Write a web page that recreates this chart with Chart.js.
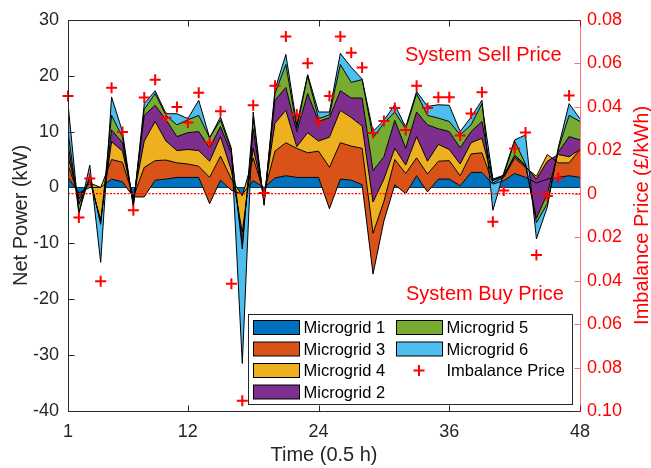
<!DOCTYPE html>
<html>
<head>
<meta charset="utf-8">
<script src="https://cdn.jsdelivr.net/npm/chart.js@4.4.1/dist/chart.umd.min.js"></script>
<style>
  html, body { margin: 0; padding: 0; background: #ffffff; }
  #wrap { width: 651px; height: 468px; position: relative; }
</style>
</head>
<body>
<div id="wrap"><canvas id="chart" width="651" height="468"></canvas></div>
<script>
// Half-hour settlement periods
const periods = [1,2,3,4,5,6,7,8,9,10,11,12,13,14,15,16,17,18,19,20,21,22,23,24,
                 25,26,27,28,29,30,31,32,33,34,35,36,37,38,39,40,41,42,43,44,45,46,47,48];

// Net power per microgrid (kW), in stacking order
const microgrid1 = [1.8,-1.0,0.0,0.0,1.5,1.0,-1.7,-1.7,1.3,1.5, 1.8,1.8,1.8,-2.9,1.3,-0.5,-1.2,1.2,0.0,1.7,
                    2.1,1.8,1.8,1.8,-3.8,1.5,1.3,0.5,-15.5,-6.0, 0.5,-1.1,2.1,-0.8,1.5,1.5,0.3,2.7,2.7,0.6,
                    1.2,2.5,1.8,0.8,1.5,1.8,2.1,1.8];
const microgrid3 = [2.2,-0.5,0.8,0.0,3.5,3.5,0.0,5.3,3.5,3.4, 2.6,2.4,2.0,4.7,4.3,2.0,-0.3,4.1,-1.0,4.8,
                    5.9,5.2,4.4,4.7,7.4,6.5,6.1,6.5,7.3,3.5, 4.5,3.6,3.2,3.2,3.2,3.3,1.8,3.3,3.5,0.2,
                    0.6,2.7,1.8,1.2,4.4,2.6,2.3,5.0];
const microgrid4 = [1.5,-0.5,0.4,-5.8,3.2,2.0,-0.3,4.7,7.0,3.4, 2.2,2.6,2.8,2.9,3.5,1.5,-6.5,1.7,-0.5,5.0,
                    5.8,0.3,3.6,1.8,5.4,5.8,5.1,4.0,5.6,4.0, 2.0,1.5,3.8,2.3,3.0,2.0,2.1,2.0,2.6,0.4,
                    0.2,0.3,0.2,-0.5,-1.2,1.5,1.1,0.0];
const microgrid2 = [2.0,-1.0,0.4,-0.4,2.1,1.5,-1.0,4.6,2.9,3.8, 2.5,3.0,3.4,2.4,1.8,3.0,-2.0,3.5,-1.0,4.1,
                    4.1,2.7,7.0,3.5,3.5,3.5,3.5,5.0,5.6,4.0, 5.0,3.0,4.4,6.5,2.8,3.2,2.9,2.0,3.0,0.1,
                    0.1,0.3,0.2,-7.0,-5.8,0.4,3.6,1.7];
const microgrid5 = [2.5,-1.5,0.6,-0.4,2.6,1.0,-0.2,1.1,2.1,0.8, 2.1,2.3,2.9,1.8,1.2,0.5,-1.0,2.0,-0.5,1.2,
                    4.1,0.6,3.2,0.5,0.5,4.7,2.8,3.3,5.9,6.0, 1.5,3.5,3.3,1.7,1.9,1.8,2.3,1.2,3.2,0.2,
                    0.1,2.5,0.2,-0.8,-1.8,0.5,3.8,3.3];
const microgrid6 = [5.0,-0.3,1.8,-6.8,3.3,1.0,-0.3,1.0,0.5,0.3, 2.0,0.2,2.7,0.0,0.5,0.5,-20.5,1.0,-0.2,0.7,
                    1.8,0.6,0.2,1.2,0.5,2.0,2.7,0.1,1.1,0.5, 1.3,0.3,0.4,1.6,2.4,2.9,0.6,1.4,0.6,-5.6,
                    0.4,0.2,5.2,-2.9,-0.6,0.3,2.1,0.5];

// Imbalance price (GBP/kWh): positive = system sell, negative = system buy
const imbalancePrice = [0.0449,-0.0110,0.0070,-0.0403,0.0487,0.0284,-0.0076,0.0443,0.0524,0.0349,
                        0.0399,0.0328,0.0464,0.0236,0.0379,-0.0415,-0.0953,0.0407,0.0003,0.0497,
                        0.0723,0.0364,0.0600,0.0331,0.0449,0.0723,0.0648,0.0580,0.0279,0.0334,
                        0.0394,0.0293,0.0497,0.0394,0.0444,0.0444,0.0268,0.0369,0.0467,-0.0129,
                        0.0014,0.0208,0.0281,-0.0282,-0.0011,0.0072,0.0452,null];

// Tick labels
const timeTicks  = [1, 12, 24, 36, 48];
const powerTicks = [-40, -30, -20, -10, 0, 10, 20, 30];
const priceTicks = [-0.10, -0.08, -0.06, -0.04, -0.02, 0, 0.02, 0.04, 0.06, 0.08];

const seriesNames  = ['Microgrid 1', 'Microgrid 3', 'Microgrid 4', 'Microgrid 2', 'Microgrid 5', 'Microgrid 6'];
const seriesValues = [microgrid1, microgrid3, microgrid4, microgrid2, microgrid5, microgrid6];
const seriesColors = ['#0072BD', '#D95319', '#EDB120', '#7E2F8E', '#77AC30', '#4DBEEE'];

const FONT = "'Liberation Sans', Arial, Helvetica, sans-serif";
const INK = '#262626';
const RED = '#ff0000';

// Running totals give each layer's upper edge; each layer fills down to the previous one
const running = periods.map(() => 0);
const areaSets = seriesValues.map((vals, s) => {
  const pts = periods.map((t, k) => {
    running[k] += vals[k];
    return { x: t, y: +running[k].toFixed(3) };
  });
  return {
    label: seriesNames[s],
    data: pts,
    yAxisID: 'y',
    borderColor: '#000000',
    borderWidth: 1,
    backgroundColor: seriesColors[s],
    fill: s === 0 ? 'origin' : '-1',
    pointRadius: 0,
    tension: 0,
    order: 20 - s
  };
});

const priceSet = {
  type: 'scatter',
  label: 'Imbalance Price',
  data: periods.map((t, k) => ({ x: t, y: imbalancePrice[k] })),
  yAxisID: 'y2',
  showLine: false,
  pointStyle: 'cross',
  pointRadius: 5.5,
  pointBorderWidth: 2,
  borderColor: RED,
  backgroundColor: RED,
  clip: false,
  order: 0
};

const zeroPriceSet = {
  type: 'line',
  label: 'zero price',
  data: [{ x: periods[0], y: 0 }, { x: periods[periods.length - 1], y: 0 }],
  yAxisID: 'y2',
  borderColor: RED,
  borderWidth: 1.3,
  borderDash: [2, 1.5],
  pointRadius: 0,
  fill: false,
  order: 1
};

const decorations = {
  id: 'decorations',
  beforeDraw(chart) {
    // base edge of the first area layer
    const { ctx, scales: { x, y } } = chart;
    const y0 = Math.round(y.getPixelForValue(0)) + 0.5;
    ctx.save();
    ctx.strokeStyle = '#000';
    ctx.lineWidth = 1;
    ctx.beginPath();
    ctx.moveTo(x.getPixelForValue(periods[0]), y0);
    ctx.lineTo(x.getPixelForValue(periods[periods.length - 1]), y0);
    ctx.stroke();
    ctx.restore();
  },
  afterDatasetsDraw(chart) {
    const { ctx, chartArea: a, scales: { x, y, y2 } } = chart;
    const L = Math.round(a.left) + 0.5, R = Math.round(a.right) + 0.5;
    const T = Math.round(a.top) + 0.5, B = Math.round(a.bottom) + 0.5;
    const tl = 6;
    ctx.save();
    ctx.lineWidth = 1;
    // left, bottom and top frame lines with inward ticks
    ctx.strokeStyle = INK;
    ctx.beginPath();
    ctx.moveTo(L, T); ctx.lineTo(L, B); ctx.lineTo(R, B);
    ctx.moveTo(L, T); ctx.lineTo(R, T);
    powerTicks.forEach(v => {
      const py = Math.round(y.getPixelForValue(v)) + 0.5;
      ctx.moveTo(L, py); ctx.lineTo(L + tl, py);
    });
    timeTicks.forEach(v => {
      const px = Math.round(x.getPixelForValue(v)) + 0.5;
      ctx.moveTo(px, B); ctx.lineTo(px, B - tl);
      ctx.moveTo(px, T); ctx.lineTo(px, T + tl);
    });
    ctx.stroke();
    // right price axis
    ctx.strokeStyle = 'rgba(255,0,0,0.55)';
    ctx.beginPath();
    ctx.moveTo(R, T); ctx.lineTo(R, B);
    priceTicks.forEach(v => {
      const py = Math.round(y2.getPixelForValue(v)) + 0.5;
      ctx.moveTo(R, py); ctx.lineTo(R - tl, py);
    });
    ctx.stroke();
    ctx.restore();
  },
  afterDraw(chart) {
    const { ctx, chartArea: a } = chart;
    const midY = (a.top + a.bottom) / 2;
    ctx.save();
    // axis titles
    ctx.font = '20px ' + FONT;
    ctx.textAlign = 'center';
    ctx.textBaseline = 'middle';
    ctx.fillStyle = INK;
    ctx.fillText('Time (0.5 h)', (a.left + a.right) / 2, 455);
    ctx.save();
    ctx.translate(21, midY);
    ctx.rotate(-Math.PI / 2);
    ctx.fillText('Net Power (kW)', 0, 0);
    ctx.restore();
    ctx.save();
    ctx.fillStyle = RED;
    ctx.translate(642, midY);
    ctx.rotate(-Math.PI / 2);
    ctx.fillText('Imbalance Price (\u00A3/kWh)', 0, 0);
    ctx.restore();
    // price regime notes
    ctx.fillStyle = RED;
    ctx.textAlign = 'left';
    ctx.fillText('System Sell Price', 405, 55);
    ctx.fillText('System Buy Price', 406, 294);

    // legend
    const bx = 248.5, by = 314.5, bw = 324, bh = 90;
    ctx.fillStyle = '#ffffff';
    ctx.fillRect(bx, by, bw, bh);
    ctx.strokeStyle = INK;
    ctx.lineWidth = 1;
    ctx.strokeRect(bx, by, bw, bh);
    const rows = [327.5, 349, 370.5, 392];
    const cols = [{ sw: 253, tx: 303.5 }, { sw: 396, tx: 446.5 }];
    const slots = [[0, 0], [0, 1], [0, 2], [0, 3], [1, 0], [1, 1]];
    ctx.font = '16.5px ' + FONT;
    ctx.textBaseline = 'middle';
    ctx.textAlign = 'left';
    slots.forEach(([c, r], s) => {
      const col = cols[c], cy = rows[r];
      ctx.fillStyle = seriesColors[s];
      ctx.fillRect(col.sw + 0.5, cy - 7, 46, 14);
      ctx.strokeStyle = '#000';
      ctx.strokeRect(col.sw + 0.5, cy - 7, 46, 14);
      ctx.fillStyle = '#000';
      ctx.fillText(seriesNames[s], col.tx, cy + 1);
    });
    // marker entry
    const mx = cols[1].sw + 23, my = rows[2];
    ctx.strokeStyle = RED;
    ctx.lineWidth = 2;
    ctx.beginPath();
    ctx.moveTo(mx - 5.5, my); ctx.lineTo(mx + 5.5, my);
    ctx.moveTo(mx, my - 5.5); ctx.lineTo(mx, my + 5.5);
    ctx.stroke();
    ctx.fillStyle = '#000';
    ctx.fillText('Imbalance Price', cols[1].tx, my + 1);
    ctx.restore();
  }
};

new Chart(document.getElementById('chart'), {
  type: 'line',
  data: { datasets: [...areaSets, zeroPriceSet, priceSet] },
  options: {
    responsive: false,
    animation: false,
    devicePixelRatio: 1,
    layout: { padding: { top: 13, left: 0, right: 0, bottom: 0 } },
    plugins: {
      legend: { display: false },
      tooltip: { enabled: false },
      filler: { drawTime: 'beforeDatasetsDraw' }
    },
    scales: {
      x: {
        type: 'linear',
        position: 'bottom',
        min: 1, max: 48,
        afterBuildTicks: s => { s.ticks = timeTicks.map(v => ({ value: v })); },
        afterFit: s => { s.height = 57; },
        grid: { display: false, drawTicks: false },
        border: { display: false },
        ticks: { autoSkip: false, maxRotation: 0, padding: 10, color: INK, font: { family: FONT, size: 18 } }
      },
      y: {
        type: 'linear',
        position: 'left',
        min: -40, max: 30,
        afterBuildTicks: s => { s.ticks = powerTicks.map(v => ({ value: v })); },
        afterFit: s => { s.width = 68; },
        grid: { display: false, drawTicks: false },
        border: { display: false },
        ticks: { autoSkip: false, padding: 9, color: INK, font: { family: FONT, size: 18 } }
      },
      y2: {
        type: 'linear',
        position: 'right',
        min: -0.10, max: 0.08,
        afterBuildTicks: s => { s.ticks = priceTicks.map(v => ({ value: v })); },
        afterFit: s => { s.width = 71; },
        grid: { display: false, drawTicks: false },
        border: { display: false },
        ticks: {
          autoSkip: false, padding: 7, color: RED, font: { family: FONT, size: 18 },
          callback: v => { const a = Math.abs(Math.round(v * 100) / 100); return a === 0 ? '0' : a.toFixed(2); }
        }
      }
    }
  },
  plugins: [decorations]
});
</script>
</body>
</html>
